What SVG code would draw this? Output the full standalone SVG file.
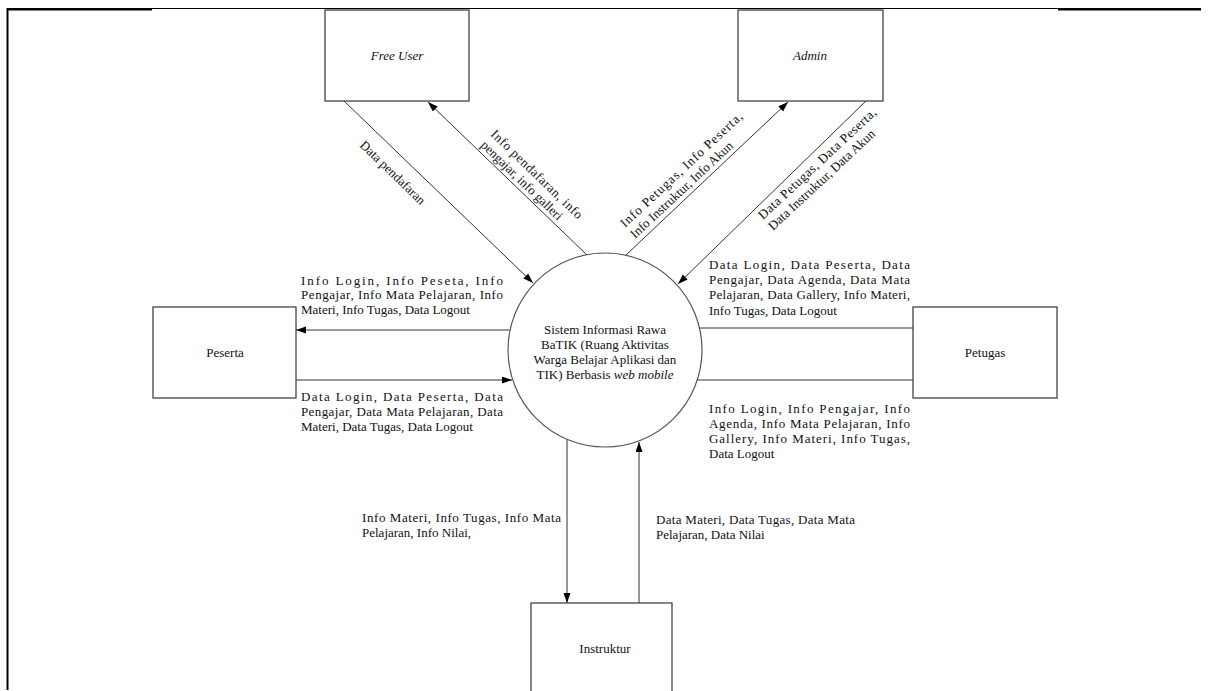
<svg xmlns="http://www.w3.org/2000/svg" width="1210" height="691" viewBox="0 0 1210 691">
<style>
text{font-family:"Liberation Serif","Times New Roman",serif;font-size:13px;fill:#111}
.box{fill:#fff;stroke:#444;stroke-width:1.3}
.con{stroke:#333;stroke-width:1;fill:none}
.it{font-style:italic}
.mid{text-anchor:middle}
</style>
<defs>
<marker id="ah" markerUnits="userSpaceOnUse" markerWidth="11" markerHeight="8" refX="10" refY="3.5" orient="auto">
<path d="M0,0 L10,3.5 L0,7 z" fill="#000"/>
</marker>
</defs>
<rect width="1210" height="691" fill="#fff"/>
<g id="frame">
<line x1="7" y1="8.5" x2="1201" y2="8.5" stroke="#000" stroke-width="1"/>
<line x1="7" y1="9.5" x2="152" y2="9.5" stroke="#000" stroke-width="2"/>
<line x1="1058" y1="9.5" x2="1201" y2="9.5" stroke="#000" stroke-width="2"/>
<line x1="7.5" y1="8" x2="7.5" y2="690" stroke="#000" stroke-width="2"/>
</g>
<g id="connectors">
<line class="con" x1="344" y1="101" x2="533" y2="283" marker-end="url(#ah)"/>
<line class="con" x1="587" y1="255" x2="428" y2="102" marker-end="url(#ah)"/>
<line class="con" x1="626" y1="255" x2="788" y2="102" marker-end="url(#ah)"/>
<line class="con" x1="866" y1="101" x2="678" y2="284" marker-end="url(#ah)"/>
<line class="con" x1="510" y1="330" x2="296" y2="330" marker-end="url(#ah)"/>
<line class="con" x1="296" y1="380" x2="512" y2="380" marker-end="url(#ah)"/>
<line class="con" x1="700" y1="328" x2="913" y2="328"/>
<line class="con" x1="697" y1="380" x2="913" y2="380"/>
<line class="con" x1="567" y1="439" x2="567" y2="603" marker-end="url(#ah)"/>
<line class="con" x1="639" y1="603" x2="639" y2="442" marker-end="url(#ah)"/>
</g>
<g id="labels">
<text transform="translate(359,146) rotate(44)">Data pendafaran</text>
<text transform="translate(490,135) rotate(44)" textLength="122" lengthAdjust="spacing">Info pendafaran, info</text>
<text transform="translate(480,146) rotate(44)">pengajar, info galleri</text>
<text transform="translate(625,228) rotate(-43)" textLength="162" lengthAdjust="spacing">Info Petugas, Info Peserta,</text>
<text transform="translate(635,239) rotate(-43)">Info Instruktur, Info Akun</text>
<text transform="translate(763,220) rotate(-43)" textLength="156" lengthAdjust="spacing">Data Petugas, Data Peserta,</text>
<text transform="translate(773,231) rotate(-43)">Data Instruktur, Data Akun</text>
<text x="301" y="285" textLength="202" lengthAdjust="spacing">Info Login, Info Peseta, Info</text>
<text x="301" y="299" textLength="202" lengthAdjust="spacing">Pengajar, Info Mata Pelajaran, Info</text>
<text x="301" y="314">Materi, Info Tugas, Data Logout</text>
<text x="301" y="401" textLength="202" lengthAdjust="spacing">Data Login, Data Peserta, Data</text>
<text x="301" y="416" textLength="202" lengthAdjust="spacing">Pengajar, Data Mata Pelajaran, Data</text>
<text x="301" y="431">Materi, Data Tugas, Data Logout</text>
<text x="709" y="269" textLength="201" lengthAdjust="spacing">Data Login, Data Peserta, Data</text>
<text x="709" y="284" textLength="201" lengthAdjust="spacing">Pengajar, Data Agenda, Data Mata</text>
<text x="709" y="299" textLength="201" lengthAdjust="spacing">Pelajaran, Data Gallery, Info Materi,</text>
<text x="709" y="315">Info Tugas, Data Logout</text>
<text x="709" y="413" textLength="201" lengthAdjust="spacing">Info Login, Info Pengajar, Info</text>
<text x="709" y="428" textLength="201" lengthAdjust="spacing">Agenda, Info Mata Pelajaran, Info</text>
<text x="709" y="443" textLength="201" lengthAdjust="spacing">Gallery, Info Materi, Info Tugas,</text>
<text x="709" y="458">Data Logout</text>
<text x="362" y="522" textLength="199" lengthAdjust="spacing">Info Materi, Info Tugas, Info Mata</text>
<text x="362" y="537">Pelajaran, Info Nilai,</text>
<text x="656" y="524" textLength="199" lengthAdjust="spacing">Data Materi, Data Tugas, Data Mata</text>
<text x="656" y="539">Pelajaran, Data Nilai</text>
</g>
<g id="free-user">
<rect class="box" x="325" y="10" width="144" height="91"/>
<text class="it mid" x="397" y="60">Free User</text>
</g>
<g id="admin">
<rect class="box" x="738" y="10" width="145" height="91"/>
<text class="it mid" x="810" y="60">Admin</text>
</g>
<g id="sistem">
<circle cx="605" cy="350" r="97" fill="#fff" stroke="#555" stroke-width="1.2"/>
<text class="mid" x="605" y="334">Sistem Informasi Rawa</text>
<text class="mid" x="605" y="349">BaTIK (Ruang Aktivitas</text>
<text class="mid" x="605" y="364">Warga Belajar Aplikasi dan</text>
<text class="mid" x="605" y="379">TIK) Berbasis <tspan class="it">web mobile</tspan></text>
</g>
<g id="peserta">
<rect class="box" x="153" y="307" width="143" height="91"/>
<text class="mid" x="225" y="357">Peserta</text>
</g>
<g id="petugas">
<rect class="box" x="913" y="307" width="144" height="91"/>
<text class="mid" x="985" y="357">Petugas</text>
</g>
<g id="instruktur">
<rect class="box" x="531" y="603" width="141" height="100"/>
<text class="mid" x="605" y="653">Instruktur</text>
</g>
</svg>
